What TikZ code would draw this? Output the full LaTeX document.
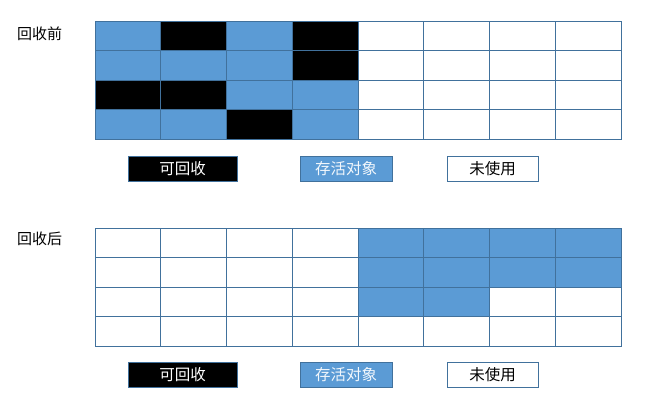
\documentclass[tikz,border=0pt]{standalone}
\usepackage{fontspec}
\setmainfont{Noto Sans CJK SC}
\definecolor{blu}{HTML}{5B9BD5}
\definecolor{edgec}{HTML}{41719C}
\tikzset{
  cell/.style={rectangle, draw=edgec, line width=0.9pt, minimum width=65.75pt, minimum height=29.45pt, inner sep=0pt, outer sep=0pt, anchor=north west},
  cB/.style={fill=blu},
  cK/.style={fill=black},
  cW/.style={fill=white},
  legend/.style={rectangle, draw=edgec, line width=0.9pt, minimum height=25pt, inner sep=0pt, font=\fontsize{15.5}{17}\selectfont},
  title/.style={anchor=west, inner sep=0pt, font=\fontsize{15}{17}\selectfont}
}
\begin{document}
\begin{tikzpicture}[x=1pt,y=-1pt]
\useasboundingbox[fill=white] (0,0) rectangle (650,403);
% titles
\node[title] (before) at (17,34) {回收前};
\node[title] (after) at (17,238.5) {回收后};
% top grid
\foreach \row [count=\r from 0] in {{B,K,B,K,W,W,W,W},{B,B,B,K,W,W,W,W},{K,K,B,B,W,W,W,W},{B,B,K,B,W,W,W,W}}{
  \foreach \c [count=\k from 0] in \row {
    \node[cell, c\c] (t-\r-\k) at (95+65.75*\k, 21.5+29.4*\r) {};
  }
}
% bottom grid
\foreach \row [count=\r from 0] in {{W,W,W,W,B,B,B,B},{W,W,W,W,B,B,B,B},{W,W,W,W,B,B,W,W},{W,W,W,W,W,W,W,W}}{
  \foreach \c [count=\k from 0] in \row {
    \node[cell, c\c] (b-\r-\k) at (95+65.75*\k, 228+29.5*\r) {};
  }
}
% legends top
\node[legend, fill=black, text=white, minimum width=109pt] (lt1) at (182.5,168.5) {可回收};
\node[legend, fill=blu, text=white!92!blu, minimum width=92pt] (lt2) at (346,168.5) {存活对象};
\node[legend, fill=white, text=black, minimum width=91pt] (lt3) at (492.5,168.5) {未使用};
% legends bottom
\node[legend, fill=black, text=white, minimum width=109pt] (lb1) at (182.5,375) {可回收};
\node[legend, fill=blu, text=white!92!blu, minimum width=92pt] (lb2) at (346,375) {存活对象};
\node[legend, fill=white, text=black, minimum width=91pt] (lb3) at (492.5,375) {未使用};
\end{tikzpicture}
\end{document}
